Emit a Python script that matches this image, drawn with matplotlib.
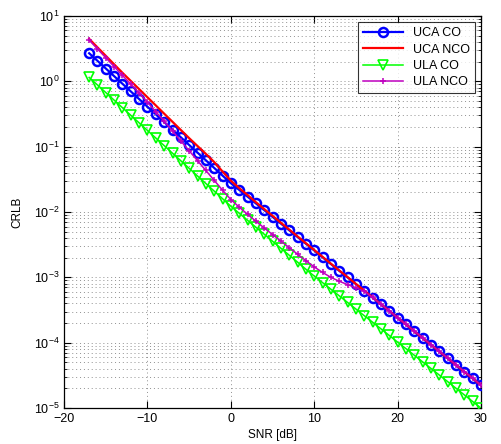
import matplotlib
matplotlib.use("Agg")
import matplotlib.pyplot as plt
import matplotlib.ticker as mtick
import numpy as np

plt.rcParams["font.family"] = ["Liberation Sans", "DejaVu Sans"]
plt.rcParams["mathtext.fontset"] = "custom"
plt.rcParams["mathtext.rm"] = "Liberation Sans"
plt.rcParams["mathtext.it"] = "Liberation Sans"

snr_db = list(range(-17, 31))

uca_co = [
    2.69, 2.06, 1.57, 1.20, 0.916, 0.700, 0.535, 0.408, 0.312, 0.238,
    0.182, 0.139, 0.106, 0.0811, 0.0619, 0.0473, 0.0361, 0.0276,
    0.0218, 0.0172, 0.01355, 0.01069, 0.00843, 0.00665, 0.00525, 0.00414,
    0.00327, 0.00258, 0.00203, 0.00160, 0.00126, 0.000998, 0.000787,
    0.000621, 0.000490, 0.000386, 0.000305, 0.000240, 0.000190, 0.000150,
    0.000118, 9.31e-5, 7.34e-5, 5.79e-5, 4.57e-5, 3.60e-5, 2.84e-5, 2.24e-5,
]
uca_nco = [
    4.47, 3.31, 2.455, 1.820, 1.349, 1.012, 0.759, 0.569, 0.427, 0.320,
    0.240, 0.180, 0.1349, 0.1023, 0.0776, 0.0582, 0.0417, 0.0302,
    0.0232, 0.0182, 0.01413, 0.01109, 0.00875, 0.00685, 0.00539, 0.00423,
    0.00333, 0.00262, 0.00206, 0.00162, 0.001275, 0.00101, 0.000794,
    0.000627, 0.000493, 0.000389, 0.000307, 0.000241, 0.000191, 0.000150,
    0.000118, 9.33e-5, 7.35e-5, 5.80e-5, 4.57e-5, 3.60e-5, 2.84e-5, 2.24e-5,
]
ula_co = [
    1.148, 0.879, 0.673, 0.515, 0.394, 0.302, 0.231, 0.177, 0.1355, 0.1038,
    0.0794, 0.0608, 0.0466, 0.0356, 0.0273, 0.0209, 0.0160, 0.01225,
    0.00957, 0.00748, 0.00585, 0.00457, 0.00357, 0.00279, 0.00218, 0.00171,
    0.00133, 0.001047, 0.000830, 0.000658, 0.000521, 0.000413, 0.000327,
    0.000259, 0.000206, 0.000163, 0.000129, 0.000102, 8.11e-5, 6.43e-5,
    5.09e-5, 4.04e-5, 3.20e-5, 2.54e-5, 2.01e-5, 1.59e-5, 1.26e-5, 1.00e-5,
]
ula_nco = [
    4.27, 3.13, 2.29, 1.679, 1.230, 0.902, 0.661, 0.479, 0.343, 0.2455,
    0.1738, 0.1225, 0.0865, 0.0611, 0.0432, 0.0305, 0.0216, 0.01549,
    0.01189, 0.00923, 0.00724, 0.00569, 0.00452, 0.00359, 0.00285, 0.00226,
    0.00180, 0.001445, 0.001189, 0.001000, 0.000871, 0.000776, 0.000692,
    0.000610, 0.000492, 0.000388, 0.000307, 0.000241, 0.000191, 0.000151,
    0.000119, 9.36e-5, 7.38e-5, 5.82e-5, 4.59e-5, 3.62e-5, 2.86e-5, 2.25e-5,
]

fig = plt.figure(figsize=(5.01, 4.44), dpi=100)
ax = fig.add_axes([0.128, 0.081, 0.832, 0.883])

ax.semilogy(snr_db, uca_co, "-o", color="b", lw=1.6, ms=6.5, mew=1.8,
            mfc="none", label="UCA CO", zorder=3)
ax.semilogy(snr_db, uca_nco, "-", color="r", lw=1.6, label="UCA NCO", zorder=4)
ax.semilogy(snr_db, ula_co, "-v", color=(0, 1, 0), lw=1.1, ms=6.5, mew=1.2,
            mfc="none", label="ULA CO", zorder=3)
ax.semilogy(snr_db, ula_nco, "-+", color="m", lw=1.1, ms=4, mew=1.1,
            label="ULA NCO", zorder=5)

ax.set_xlim(-20, 30)
ax.set_ylim(1e-5, 1e1)
ax.set_xticks([-20, -10, 0, 10, 20, 30])
ax.yaxis.set_major_locator(mtick.LogLocator(base=10, numticks=10))
ax.yaxis.set_minor_locator(mtick.LogLocator(base=10, subs=np.arange(2, 10), numticks=10))
ax.yaxis.set_minor_formatter(mtick.NullFormatter())

ax.grid(True, which="major", linestyle=(0, (1, 3)), color="#909090", lw=0.7)
ax.grid(True, which="minor", axis="y", linestyle=(0, (1, 3)), color="#909090", lw=0.7)

ax.tick_params(which="both", direction="in", top=True, right=True, labelsize=9)
ax.tick_params(which="major", length=5, width=0.8)
ax.tick_params(which="minor", length=2.5, width=0.6)
for s in ax.spines.values():
    s.set_linewidth(0.9)

ax.set_xlabel("SNR [dB]", fontsize=8.5, labelpad=3)
ax.set_ylabel("CRLB", fontsize=8.5, labelpad=7)

leg = ax.legend(loc="upper right", fontsize=9, handlelength=3.2, frameon=True,
                fancybox=False, edgecolor="black", borderpad=0.4,
                labelspacing=0.35, handletextpad=0.8, borderaxespad=0.5)
leg.get_frame().set_linewidth(0.8)

fig.savefig("out.png", dpi=100)
